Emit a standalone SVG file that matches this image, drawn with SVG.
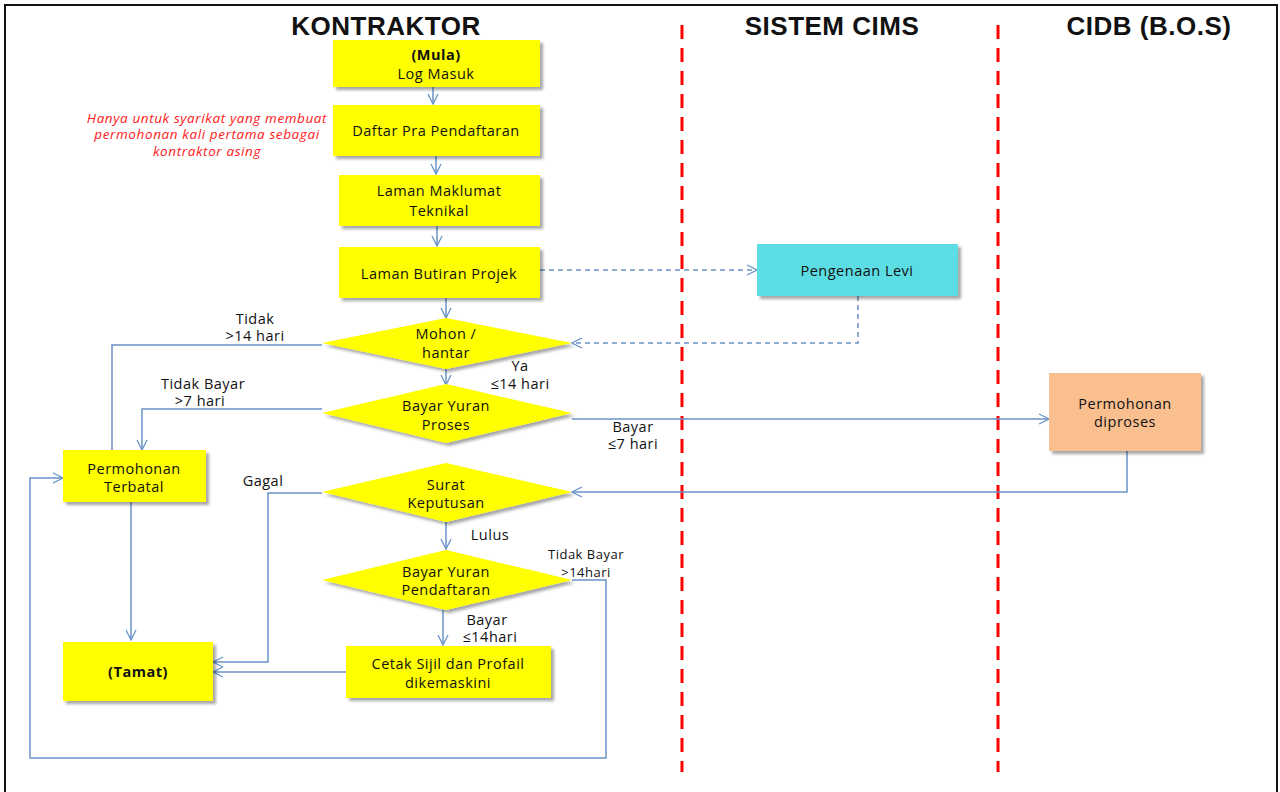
<svg xmlns="http://www.w3.org/2000/svg" width="1280" height="792" viewBox="0 0 1280 792">
<defs>
<filter id="sh" x="-10%" y="-10%" width="130%" height="140%"><feDropShadow dx="3" dy="3" stdDeviation="1.5" flood-color="#000" flood-opacity="0.35"/></filter>
<marker id="ah" viewBox="0 0 12 12" refX="11" refY="6" markerWidth="12" markerHeight="12" markerUnits="userSpaceOnUse" orient="auto"><path d="M1,1 L11,6 L1,11" fill="none" stroke="#6A93C8" stroke-width="1.3"/></marker>
</defs>
<style>
.hdr{font-family:"Liberation Sans",Arial,sans-serif;font-weight:bold;font-size:26px;letter-spacing:0.5px;fill:#111;text-anchor:middle}
.t{font-family:"Open Sans","Liberation Sans",Arial,sans-serif;font-size:14.5px;letter-spacing:0.5px;fill:#111;text-anchor:middle}
.b{font-weight:bold}
.lbl{font-family:"Open Sans","Liberation Sans",Arial,sans-serif;font-size:14.5px;letter-spacing:0.5px;fill:#111;text-anchor:middle}
.sm{font-size:13px;letter-spacing:0.5px}
.note{font-family:"Open Sans","Liberation Sans",Arial,sans-serif;font-size:13.5px;letter-spacing:0.6px;font-style:italic;fill:#FF2020;text-anchor:middle}
.y{fill:#FFFF00;filter:url(#sh)}
.c{fill:none;stroke:#6A93C8;stroke-width:1.5}
.d{stroke-dasharray:5,4}
.lane{stroke:#FF0000;stroke-width:3;stroke-dasharray:14,9}
</style>
<rect x="0" y="0" width="1280" height="792" fill="#fff"/>
<rect x="5" y="5" width="1272" height="800" fill="none" stroke="#111" stroke-width="2"/>
<text class="hdr" x="386" y="35">KONTRAKTOR</text>
<text class="hdr" x="832" y="35">SISTEM CIMS</text>
<text class="hdr" x="1149" y="35">CIDB (B.O.S)</text>
<line class="lane" x1="682" y1="25" x2="682" y2="772"/>
<line class="lane" x1="998" y1="25" x2="998" y2="772"/>
<text class="note" x="207" y="123">Hanya untuk syarikat yang membuat</text>
<text class="note" x="207" y="139">permohonan kali pertama sebagai</text>
<text class="note" x="207" y="156">kontraktor asing</text>
<g id="connectors">
<line class="c" x1="433" y1="87" x2="433" y2="104" marker-end="url(#ah)"/>
<line class="c" x1="436" y1="156" x2="436" y2="174" marker-end="url(#ah)"/>
<line class="c" x1="437" y1="226" x2="437" y2="246" marker-end="url(#ah)"/>
<line class="c" x1="446" y1="298" x2="446" y2="318" marker-end="url(#ah)"/>
<line class="c" x1="446" y1="369" x2="446" y2="385" marker-end="url(#ah)"/>
<line class="c d" x1="540" y1="270" x2="757" y2="270" marker-end="url(#ah)"/>
<polyline class="c d" points="858,296 858,343 572,343" marker-end="url(#ah)"/>
<polyline class="c" points="322,345 112,345 112,450"/>
<polyline class="c" points="322,409 142,409 142,450" marker-end="url(#ah)"/>
<line class="c" x1="572" y1="419" x2="1049" y2="419" marker-end="url(#ah)"/>
<polyline class="c" points="1127,451 1127,492 572,492" marker-end="url(#ah)"/>
<polyline class="c" points="322,493 268,493 268,662 213,662" marker-end="url(#ah)"/>
<line class="c" x1="446" y1="522" x2="446" y2="549" marker-end="url(#ah)"/>
<line class="c" x1="443" y1="610" x2="443" y2="645" marker-end="url(#ah)"/>
<polyline class="c" points="572,580 606,580 606,758 30,758 30,478 63,478" marker-end="url(#ah)"/>
<line class="c" x1="131" y1="502" x2="131" y2="640" marker-end="url(#ah)"/>
<line class="c" x1="346" y1="672" x2="213" y2="672" marker-end="url(#ah)"/>
<text class="lbl" x="255" y="324">Tidak</text>
<text class="lbl" x="255" y="341">&gt;14 hari</text>
<text class="lbl" x="520" y="371">Ya</text>
<text class="lbl" x="520" y="389">≤14 hari</text>
<text class="lbl" x="203" y="389">Tidak Bayar</text>
<text class="lbl" x="200" y="406">&gt;7 hari</text>
<text class="lbl" x="633" y="432">Bayar</text>
<text class="lbl" x="633" y="449">≤7 hari</text>
<text class="lbl" x="263" y="486">Gagal</text>
<text class="lbl" x="490" y="540">Lulus</text>
<text class="lbl sm" x="586" y="559">Tidak Bayar</text>
<text class="lbl sm" x="586" y="577">&gt;14hari</text>
<text class="lbl" x="487" y="625">Bayar</text>
<text class="lbl" x="490" y="642">≤14hari</text>
</g>
<g id="mula"><rect class="y" x="333" y="40" width="207" height="47"/><text class="t b" x="436" y="60">(Mula)</text><text class="t" x="436" y="79">Log Masuk</text></g>
<g id="daftar"><rect class="y" x="333" y="105" width="207" height="51"/><text class="t" x="436" y="136">Daftar Pra  Pendaftaran</text></g>
<g id="maklumat"><rect class="y" x="339" y="175" width="201" height="51"/><text class="t" x="439" y="196">Laman Maklumat</text><text class="t" x="439" y="216">Teknikal</text></g>
<g id="butiran"><rect class="y" x="339" y="247" width="201" height="51"/><text class="t" x="439" y="279">Laman  Butiran Projek</text></g>
<g id="mohon"><polygon class="y" points="322,343 446,318 572,343 446,369"/><text class="t" x="446" y="339">Mohon /</text><text class="t" x="446" y="358">hantar</text></g>
<g id="bayarproses"><polygon class="y" points="322,413 446,384 572,413 446,443"/><text class="t" x="446" y="411">Bayar Yuran</text><text class="t" x="446" y="430">Proses</text></g>
<g id="surat"><polygon class="y" points="322,492 446,463 572,492 446,522"/><text class="t" x="446" y="490">Surat</text><text class="t" x="446" y="508">Keputusan</text></g>
<g id="bayarpendaftaran"><polygon class="y" points="322,580 446,550 572,580 446,610"/><text class="t" x="446" y="577">Bayar Yuran</text><text class="t" x="446" y="595">Pendaftaran</text></g>
<g id="terbatal"><rect class="y" x="63" y="450" width="143" height="52"/><text class="t" x="134" y="474">Permohonan</text><text class="t" x="134" y="492">Terbatal</text></g>
<g id="tamat"><rect class="y" x="63" y="642" width="150" height="59"/><text class="t b" x="138" y="677">(Tamat)</text></g>
<g id="cetak"><rect class="y" x="346" y="646" width="205" height="52"/><text class="t" x="448" y="669">Cetak Sijil dan Profail</text><text class="t" x="448" y="688">dikemaskini</text></g>
<g id="levi"><rect x="757" y="244" width="201" height="52" fill="#5BDCE3" filter="url(#sh)"/><text class="t" x="857" y="276">Pengenaan Levi</text></g>
<g id="diproses"><rect x="1049" y="373" width="152" height="78" fill="#F9BF8F" filter="url(#sh)"/><text class="t" x="1125" y="409">Permohonan</text><text class="t" x="1125" y="427">diproses</text></g>
</svg>
